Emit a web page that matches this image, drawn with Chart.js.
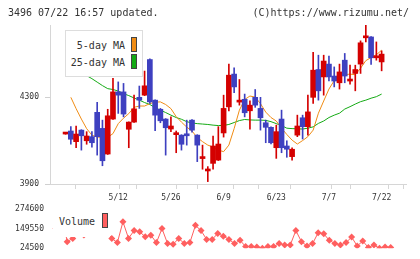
<!DOCTYPE html>
<html>
<head>
<meta charset="utf-8">
<script src="https://cdn.jsdelivr.net/npm/chart.js@4.4.1/dist/chart.umd.min.js"></script>
<style>
html,body{margin:0;padding:0;background:#fff;}
body{width:420px;height:259px;position:relative;overflow:hidden;font-family:"DejaVu Sans Mono",monospace;color:#333;}
canvas{position:absolute;left:0;}
#main{top:0;}
#vol{top:195px;}
.t{position:absolute;font-size:10px;line-height:12px;white-space:pre;color:#333;}
#legend{position:absolute;left:65px;top:30px;width:76px;height:45px;background:#fff;border:1px solid #ddd;}
#vlegend{position:absolute;left:53px;top:204px;width:57px;height:33px;background:#fff;}
.sw{position:absolute;width:4px;height:13px;border:1px solid #444;}
</style>
</head>
<body>
<canvas id="main" width="420" height="205"></canvas>
<canvas id="vol" width="420" height="64"></canvas>
<div class="t" style="left:8px;top:7px;">3496 07/22 16:57 updated.</div>
<div class="t" style="right:11px;top:7px;">(C)https://www.rizumu.net/</div>
<div id="legend">
  <div class="t" style="right:17px;top:9px;">5-day MA</div>
  <div class="t" style="right:17px;top:26px;">25-day MA</div>
  <div class="sw" style="left:65px;top:6px;background:rgb(240,140,20);"></div>
  <div class="sw" style="left:65px;top:23px;background:rgb(20,170,20);"></div>
</div>
<div id="vlegend">
  <div class="t" style="left:6px;top:12px;">Volume</div>
  <div class="sw" style="left:49px;top:9px;background:rgb(255,95,95);"></div>
</div>
<script>
// ---- data ----
const dates = ['4/23','4/24','4/25','4/28','4/30','5/1','5/2','5/7','5/8','5/9',
  '5/12','5/13','5/14','5/15','5/16','5/19','5/20','5/21','5/22','5/23',
  '5/26','5/27','5/28','5/29','5/30','6/2','6/3','6/4','6/5','6/6',
  '6/9','6/10','6/11','6/12','6/13','6/16','6/17','6/18','6/19','6/20',
  '6/23','6/24','6/25','6/26','6/27','6/30','7/1','7/2','7/3','7/4',
  '7/7','7/8','7/9','7/10','7/11','7/14','7/15','7/16','7/17','7/18',
  '7/22'];
const tickLabels = ['5/12','5/26','6/9','6/23','7/7','7/22'];
const priceTicks = [3900, 4300];
const volumeTicks = [24500, 149550, 274600];

const openP = [4130,4144,4095,4148,4099,4118,4230,4156,4038,4199,
  4324,4324,4152,4185,4299,4309,4473,4286,4244,4199,
  4153,4127,4125,4130,4194,4125,4017,3960,3995,4010,
  4135,4255,4406,4277,4290,4237,4299,4248,4182,4161,
  4067,4199,4075,4026,4125,4205,4164,4299,4427,4393,
  4452,4397,4366,4470,4374,4409,4452,4573,4577,4481,
  4462];
const highP = [4131,4164,4167,4150,4141,4141,4276,4194,4244,4386,
  4370,4363,4186,4309,4351,4420,4476,4288,4248,4201,
  4209,4144,4127,4194,4196,4127,4079,3980,4121,4164,
  4309,4452,4435,4381,4314,4283,4335,4299,4194,4163,
  4171,4240,4099,4067,4217,4217,4309,4506,4493,4493,
  4489,4439,4452,4501,4447,4447,4559,4631,4579,4554,
  4513];
const lowP = [4129,4083,4067,4056,4083,4069,4033,3984,4036,4197,
  4225,4209,4067,4183,4248,4307,4271,4145,4182,4033,
  4141,4044,4056,4079,4139,4003,3968,3911,3968,4008,
  4116,4237,4320,4263,4209,4153,4253,4148,4090,4084,
  4018,4044,4023,4010,4118,4107,4125,4271,4286,4309,
  4374,4347,4337,4366,4360,4329,4409,4554,4450,4470,
  4421];
const closeP = [4130,4106,4130,4122,4121,4090,4118,4007,4214,4324,
  4309,4222,4185,4246,4286,4352,4278,4217,4191,4159,
  4167,4129,4083,4122,4148,4079,4019,3962,4075,4084,
  4248,4401,4347,4286,4228,4263,4263,4205,4161,4090,
  4141,4067,4060,4060,4167,4164,4232,4424,4329,4466,
  4393,4374,4416,4397,4378,4427,4550,4576,4481,4489,
  4498];
const ma5 = [null,4299,4247,4199,4155,4125,4116,4115,4115,4132,
  4178,4203,4224,4253,4259,4259,4270,4277,4278,4266,
  4247,4210,4185,4162,4144,4114,4095,4079,4070,4056,
  4049,4079,4155,4240,4289,4305,4300,4270,4231,4206,
  4190,4157,4128,4102,4084,4100,4118,4148,4226,4282,
  4337,4376,4397,4403,4406,4403,4433,4468,4482,4495,
  4516];
const ma25 = [null,4435,4424,4413,4399,4385,4369,4353,4339,4335,
  4328,4316,4307,4296,4286,4275,4266,4252,4240,4229,
  4217,4206,4198,4187,4181,4178,4176,4174,4171,4169,
  4170,4174,4183,4192,4197,4195,4194,4194,4193,4187,
  4178,4169,4157,4155,4154,4153,4157,4163,4179,4190,
  4206,4217,4226,4245,4256,4268,4279,4286,4295,4302,
  4314];
const volume = [150000,250000,66400,87000,180000,108900,274600,230000,160000,130000,
  87000,60100,193300,87000,137000,129000,97600,107700,60100,149500,
  53900,49500,87000,53900,60100,170200,137000,80800,80800,118300,
  101400,80800,53900,74500,35100,35100,32600,24500,35100,35100,
  53900,45100,45100,137000,66400,38900,53900,122700,116400,74500,
  53900,45100,60100,95200,38900,70100,28900,45100,24500,32600,
  28900];

// ---- styling ----
const RED = 'rgb(212,0,0)', BLUE = 'rgb(62,64,192)';
const ORANGE = 'rgb(240,140,20)', GREEN = 'rgb(20,170,20)', VOLC = 'rgb(255,95,95)';
const X_MIN = -1.08, X_MAX = 62.75, X_MARKS = 11;
const FONT = {family: 'DejaVu Sans Mono', size: 8};
Chart.defaults.font.family = 'DejaVu Sans Mono';
Chart.defaults.color = '#333';

const idx = dates.map((d, i) => i);
const candleColor = idx.map(i => closeP[i] >= openP[i] ? RED : BLUE);
const isDateTick = v => { const i = Math.round(v); return Math.abs(v - i) < 1e-6 && tickLabels.includes(dates[i]); };

new Chart(document.getElementById('main'), {
  data: {
    datasets: [
      {type: 'line', data: idx.map(i => ({x: i, y: ma25[i]})), borderColor: GREEN, borderWidth: 1, pointRadius: 0, order: 4},
      {type: 'line', data: idx.map(i => ({x: i, y: ma5[i]})), borderColor: ORANGE, borderWidth: 1, pointRadius: 0, order: 3},
      {type: 'bar', data: idx.map(i => ({x: i, y: [lowP[i], highP[i]]})), backgroundColor: candleColor, barThickness: 1, grouped: false, order: 2},
      {type: 'bar', data: idx.map(i => ({x: i, y: [openP[i], closeP[i]]})), backgroundColor: candleColor, barThickness: 5, minBarLength: 2, grouped: false, order: 1}
    ]
  },
  options: {
    responsive: false, animation: false, devicePixelRatio: 1,
    layout: {padding: {left: 0, right: 14, top: 25, bottom: 0}},
    plugins: {legend: {display: false}, tooltip: {enabled: false}},
    scales: {
      x: {
        type: 'linear', min: X_MIN, max: X_MAX,
        afterBuildTicks: s => {
          const t = [];
          for (let k = 0; k <= X_MARKS; k++) t.push({value: X_MIN + k * (X_MAX - X_MIN) / X_MARKS});
          tickLabels.forEach(d => t.push({value: dates.indexOf(d)}));
          t.sort((a, b) => a.value - b.value);
          s.ticks = t;
        },
        ticks: {autoSkip: false, maxRotation: 0, minRotation: 0, padding: 4, font: FONT, color: '#333',
          callback: v => isDateTick(v) ? dates[Math.round(v)] : ''},
        grid: {drawOnChartArea: false, tickLength: 5,
          color: c => (c.tick && isDateTick(c.tick.value)) ? 'rgba(0,0,0,0)' : '#d6d6d6',
          tickColor: c => (c.tick && isDateTick(c.tick.value)) ? 'rgba(0,0,0,0)' : '#d6d6d6'},
        border: {color: '#d6d6d6'},
        afterFit: s => { s.height = 21; }
      },
      y: {
        min: 3900, max: 4632,
        afterBuildTicks: s => { s.ticks = priceTicks.map(v => ({value: v})); },
        ticks: {padding: 6, font: FONT, color: '#333', callback: v => String(v)},
        grid: {drawOnChartArea: false, tickLength: 5, color: '#d0d0d0'},
        border: {color: '#d6d6d6'},
        afterFit: s => { s.width = 50; }
      }
    }
  }
});

new Chart(document.getElementById('vol'), {
  type: 'line',
  data: {
    datasets: [{
      data: idx.map(i => ({x: i, y: volume[i]})),
      borderColor: VOLC, backgroundColor: VOLC, borderWidth: 1,
      pointStyle: 'rectRot', pointRadius: 3.5, pointBorderWidth: 0
    }]
  },
  options: {
    responsive: false, animation: false, devicePixelRatio: 1,
    layout: {padding: {left: 0, right: 14, top: 14, bottom: 10}},
    plugins: {legend: {display: false}, tooltip: {enabled: false}},
    scales: {
      x: {type: 'linear', min: X_MIN, max: X_MAX, display: false},
      y: {
        min: 24500, max: 274600,
        afterBuildTicks: s => { s.ticks = volumeTicks.map(v => ({value: v})); },
        ticks: {padding: 6, font: FONT, color: '#333', callback: v => String(v)},
        grid: {display: false, drawTicks: false},
        border: {display: false},
        afterFit: s => { s.width = 50; }
      }
    }
  }
});
</script>
</body>
</html>
